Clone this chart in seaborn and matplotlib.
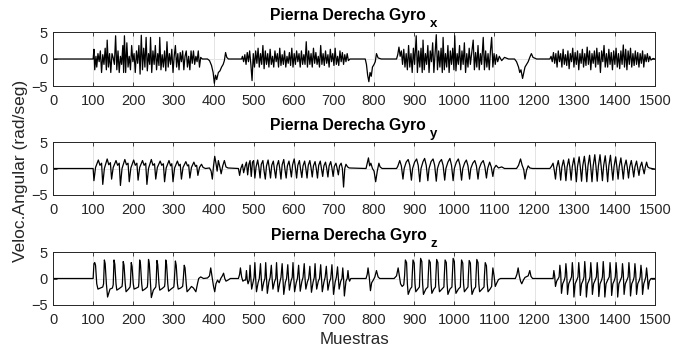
import matplotlib
matplotlib.use("Agg")
import matplotlib.pyplot as plt
import matplotlib.transforms as mtransforms
import seaborn as sns
import pandas as pd

# ---------------- data (sample, rad/seg) ----------------
gyro_x_puntos = [
(0,0),(100,0),(102,1.8),(104,-2.0),(107,0.5),(109,-1.5),(112,1.0),(115,-0.5),(118,1.5),(121,-2.5),(124,0.8),(127,-1.0),(130,2.0),(133,-2.0),(135,3.5),(138,-1.5),(141,1.0),(144,-2.5),(147,1.0),(150,0.2),(153,-1.0),(156,4.3),(159,-2.0),(162,1.5),(165,-2.5),(168,0.5),(171,-1.0),(174,2.5),(176,-2.5),(178,4.3),(181,-2.5),(184,3.0),(187,-1.5),(190,0.5),(193,-2.0),(196,2.5),(199,-0.5),(202,1.0),(205,-2.5),(208,1.5),(211,-0.8),(214,2.5),(217,-2.8),(220,4.4),(223,-2.0),(226,2.0),(229,-1.5),(232,4.0),(235,-2.2),(238,1.0),(241,-1.0),(243,4.0),(246,-2.5),(249,1.5),(252,-1.0),(255,2.5),(258,-2.0),(261,1.0),(264,-1.2),(266,4.0),(269,-2.0),(272,0.8),(275,-1.5),(278,1.5),(281,-2.2),(284,3.2),(287,-1.5),(290,1.0),(293,-1.0),(296,1.8),(299,-2.5),(302,0.5),(305,2.5),(308,-1.5),(311,1.0),(314,-2.0),(317,1.2),(320,-0.5),(323,1.5),(326,-2.0),(329,0.5),(332,1.5),(335,-1.5),(338,0.5),(341,-2.0),(344,1.5),(347,-0.8),(350,1.5),(353,-1.0),(356,0.5),(359,-0.5),(362,1.5),(365,-1.5),(368,0.3),(372,0.0),(385,0.0),(390,-0.3),(395,-1.2),(399,-2.5),(402,-4.5),(405,-3.0),(408,-3.8),(412,-2.5),(416,-2.2),(420,-1.5),(424,-1.0),(427,-0.3),(430,1.2),(433,0.3),(437,0.0),(470,0.0),
(472,0.5),(475,-0.5),(478,0.8),(481,-1.0),(484,1.2),(487,-0.5),(490,1.5),(493,-1.0),(496,-4.0),(499,1.0),(502,-1.5),(505,1.5),(508,-0.8),(511,2.0),(514,-1.5),(517,1.0),(520,-1.0),(523,2.5),(526,-1.8),(529,1.5),(532,-1.0),(535,1.0),(538,-1.5),(541,1.8),(544,-1.0),(547,0.5),(550,-1.5),(553,1.5),(556,-0.5),(559,1.0),(562,-1.5),(565,2.0),(568,-1.2),(571,0.8),(574,-1.0),(577,1.5),(580,-1.5),(583,0.5),(586,-0.8),(589,1.2),(592,-1.2),(595,2.0),(598,-1.5),(601,1.0),(604,-1.0),(607,1.5),(610,-0.5),(613,1.0),(616,-1.5),(619,1.5),(622,-1.0),(625,0.8),(628,-1.0),(631,3.2),(634,-1.5),(637,1.5),(640,-1.0),(643,1.0),(646,-1.5),(649,2.0),(652,-0.8),(655,1.2),(658,-1.0),(661,0.5),(664,-1.5),(667,2.5),(670,-1.0),(673,1.0),(676,-1.2),(679,1.5),(682,-0.8),(685,0.8),(688,-1.5),(691,1.8),(694,-0.5),(697,1.0),(700,-1.2),(703,2.0),(706,-1.0),(709,0.5),(712,-1.2),(715,1.5),(718,-0.5),(721,1.2),(724,-1.0),(727,0.8),(730,-0.5),(733,1.0),(736,-0.3),(740,0.0),(778,0.0),
(781,-1.0),(784,-3.0),(787,-4.2),(790,-2.5),(793,-3.2),(796,-1.5),(800,-1.0),(803,-0.5),(806,1.0),(810,0.2),(818,0.0),(856,0.0),(859,0.8),(862,2.2),(865,0.5),(868,1.5),(871,-1.0),(874,1.8),(877,-1.5),(880,1.0),(883,-2.0),(886,2.5),(889,-1.5),(892,1.0),(895,-2.5),(898,2.0),(901,-1.0),(905,4.3),(908,-2.5),(911,1.5),(914,-1.5),(917,2.0),(920,-2.5),(922,3.5),(925,-2.0),(928,1.0),(931,-1.0),(934,2.5),(937,-2.5),(940,1.5),(943,-0.5),(946,3.0),(949,-2.5),(952,1.0),(955,4.5),(958,-2.0),(961,1.5),(964,-1.5),(967,2.0),(970,-2.5),(972,4.0),(975,-2.0),(978,1.0),(981,-1.5),(984,2.5),(987,-2.5),(990,1.5),(993,-1.0),(996,2.0),(999,-2.0),(1001,4.3),(1004,-2.2),(1007,1.0),(1010,-1.0),(1013,2.5),(1016,-2.0),(1019,1.5),(1022,-1.0),(1025,3.0),(1028,-2.5),(1031,1.0),(1034,-1.5),(1037,2.0),(1040,-1.0),(1043,1.0),(1047,3.5),(1050,-2.0),(1053,1.2),(1056,-1.5),(1059,2.5),(1062,-2.0),(1065,1.0),(1068,-1.0),(1072,4.0),(1075,-2.0),(1078,1.5),(1081,-1.5),(1084,1.0),(1087,-2.0),(1090,1.5),(1093,4.0),(1096,-1.5),(1099,1.0),(1102,-1.0),(1105,0.8),(1108,-0.5),(1112,0.5),(1118,-0.3),(1125,0.3),(1135,0.0),(1150,0.0),(1155,-0.5),(1160,-1.5),(1163,-2.5),(1166,-2.0),(1170,-3.6),(1173,-2.5),(1176,-1.5),(1180,-1.0),(1184,-0.5),(1188,0.3),(1192,1.0),(1196,0.3),(1205,0.0),(1238,0.0),
(1241,0.5),(1244,-0.5),(1247,1.2),(1250,-0.8),(1253,1.0),(1256,-1.5),(1259,1.5),(1262,-0.5),(1265,1.0),(1268,-1.5),(1271,1.8),(1274,-1.0),(1277,0.8),(1280,-1.2),(1283,1.5),(1286,-1.8),(1289,1.0),(1292,-0.5),(1295,2.0),(1298,-1.5),(1301,1.2),(1304,-1.0),(1307,1.5),(1310,-2.0),(1313,1.0),(1316,-0.8),(1319,1.8),(1322,-1.5),(1325,1.0),(1328,-1.2),(1331,2.2),(1334,-1.0),(1337,1.5),(1340,-2.0),(1343,1.0),(1346,-0.8),(1349,1.5),(1352,-1.5),(1355,2.0),(1358,-1.0),(1361,1.2),(1364,-2.5),(1367,1.5),(1370,-0.5),(1373,2.5),(1376,-1.5),(1379,1.0),(1382,-1.5),(1385,1.8),(1388,-1.0),(1391,1.2),(1394,-2.0),(1397,1.5),(1400,-1.0),(1403,2.0),(1406,-1.5),(1409,1.0),(1412,-1.8),(1415,1.5),(1418,-1.0),(1421,2.6),(1424,-1.5),(1427,1.8),(1430,-2.0),(1433,1.5),(1436,-1.0),(1439,2.0),(1442,-1.5),(1445,1.0),(1448,-1.2),(1451,1.5),(1454,-1.0),(1457,1.2),(1460,-1.5),(1463,1.0),(1466,-0.8),(1469,1.5),(1472,-1.5),(1475,0.8),(1478,-0.5),(1481,1.0),(1484,-0.5),(1487,0.5),(1490,-0.2),(1495,0.1),(1500,0.0)]

gyro_y_puntos = [
(0,0),(100,0),(102,-2.3),(106,0.2),(113,1.6),(117,0.6),(121,1.0),(124,-3.0),(128,0.0),(135,1.8),(139,0.7),(143,1.1),(146,-2.0),(150,0.2),(157,1.5),(161,0.6),(165,1.0),(168,-3.2),(172,0.0),(179,1.7),(183,0.7),(187,1.0),(190,-2.5),(194,0.1),(201,1.6),(205,0.6),(209,1.0),(212,-2.2),(216,0.2),(223,1.5),(227,0.6),(231,1.0),(234,-3.0),(238,0.0),(245,1.7),(249,0.6),(253,0.9),(256,-2.0),(260,0.2),(267,1.4),(271,0.6),(275,0.9),(278,-2.5),(282,0.1),(289,1.5),(293,0.5),(296,0.9),(299,-2.5),(303,0.1),(310,1.4),(314,0.5),(317,0.8),(320,-2.0),(324,0.2),(331,1.3),(335,0.5),(338,0.7),(341,-1.8),(345,0.2),(351,1.2),(355,0.4),(358,0.6),(361,-1.3),(365,0.2),(370,0.8),(374,0.2),(380,0.0),(390,0.1),(394,-0.5),(397,-2.0),(400,0.5),(403,2.3),(406,1.0),(409,-0.5),(412,1.5),(416,0.2),(419,-1.0),(423,0.5),(427,1.5),(431,0.3),(436,0.1),(462,0.0),(465,-1.3),(468,0.0),(472,0.8),(475,-0.8),(479,0.5),(482,1.2),(485,-1.2),(488,0.8),(491,1.5),(494,-1.5),(497,1.2),(500,1.5),(503,-1.8),(506,0.3),(510,1.6),(513,0.2),(516,-1.8),(519,0.8),(523,1.5),(526,-0.5),(529,-2.0),(532,0.5),(536,1.6),(539,0.0),(542,-1.8),(545,0.6),(549,1.4),(552,-0.3),(555,-1.8),(558,0.5),(562,1.5),(565,0.0),(568,-2.0),(571,0.7),(575,1.7),(578,-0.2),(581,-1.8),(584,0.5),(588,1.4),(591,0.0),(594,-1.6),(597,0.7),(601,1.8),(604,0.2),(607,-1.8),(610,0.6),(614,1.5),(617,-0.2),(620,-1.7),(623,0.5),(627,1.4),(630,0.0),(633,-1.8),(636,0.6),(640,1.5),(643,0.1),(646,-1.6),(649,0.5),(653,1.3),(656,0.0),(659,-1.8),(662,0.6),(666,1.4),(669,0.0),(672,-1.5),(675,0.5),(679,1.2),(682,0.0),(685,-1.6),(688,0.5),(692,1.3),(695,0.1),(698,-1.5),(701,0.4),(705,1.0),(708,0.0),(711,-1.2),(714,0.5),(718,1.0),(721,0.0),(724,-3.5),(727,0.0),(730,0.8),(734,0.3),(738,0.1),(780,0.0),(783,1.0),(786,2.0),(789,0.5),(792,1.0),(796,0.0),(800,-0.5),(804,-2.5),(808,-0.5),(812,1.0),(815,0.3),(820,0.0),(856,0.0),(859,0.4),(864,1.5),(868,0.5),(872,-2.0),(875,0.0),(880,1.2),(885,1.7),(889,0.6),(893,-2.2),(896,0.0),(901,1.2),(906,1.8),(910,0.6),(914,-2.5),(917,0.0),(922,1.3),(926,1.9),(930,0.6),(934,-2.3),(937,0.0),(942,1.3),(947,1.8),(951,0.6),(955,-2.4),(958,0.0),(963,1.2),(968,1.7),(972,0.6),(976,-2.2),(979,0.0),(984,1.2),(989,1.9),(993,0.6),(997,-2.3),(1000,0.0),(1005,1.2),(1010,1.8),(1014,0.6),(1018,-2.2),(1021,0.0),(1026,1.1),(1030,1.6),(1034,0.5),(1038,-2.0),(1041,0.0),(1046,1.0),(1051,1.5),(1055,0.5),(1059,-2.0),(1062,0.0),(1067,1.0),(1072,1.5),(1076,0.4),(1080,-1.8),(1083,0.0),(1088,1.2),(1092,0.3),(1096,-1.5),(1099,0.0),(1104,0.6),(1110,0.1),(1118,0.3),(1125,0.0),(1155,0.0),(1160,0.6),(1165,1.8),(1169,0.6),(1173,-0.2),(1176,-2.0),(1180,-0.3),(1184,0.5),(1188,0.1),(1195,0.0),(1238,0.0),(1242,0.4),(1246,1.0),(1249,-0.3),(1252,-2.0),(1255,0.2),(1259,1.5),(1262,0.2),(1265,-2.2),(1268,0.3),(1272,1.6),(1275,0.3),(1278,-2.3),(1281,0.3),(1285,1.8),(1288,0.2),(1291,-2.2),(1294,0.4),(1298,2.0),(1301,0.3),(1304,-2.5),(1307,0.4),(1311,2.2),(1314,0.2),(1317,-2.4),(1320,0.5),(1324,2.3),(1327,0.3),(1330,-2.5),(1333,0.5),(1337,2.5),(1340,0.2),(1343,-2.5),(1346,0.5),(1350,2.6),(1353,0.3),(1356,-2.4),(1359,0.5),(1363,2.6),(1366,0.3),(1369,-2.3),(1372,0.5),(1376,2.4),(1379,0.2),(1382,-2.5),(1385,0.5),(1389,2.5),(1392,0.2),(1395,-2.2),(1398,0.4),(1402,2.2),(1405,0.3),(1408,-2.0),(1411,0.4),(1415,2.0),(1418,0.2),(1421,-2.0),(1424,0.4),(1428,1.6),(1431,0.2),(1434,-1.8),(1437,0.3),(1441,1.5),(1444,0.1),(1447,-1.6),(1450,0.3),(1454,1.4),(1457,0.1),(1460,-1.3),(1463,0.3),(1467,1.2),(1470,0.0),(1473,-1.0),(1476,0.3),(1479,1.2),(1482,0.3),(1486,0.1),(1492,0.0),(1500,-0.1)]

gyro_z_puntos = [
(0,0),(100,0),(102,2.8),(104,3.0),(106,2.5),(109,-1.0),(112,-2.0),(118,-1.8),(124,-1.6),(126,-1.0),(128,3.5),(130,2.8),(133,-1.0),(136,-3.5),(142,-2.0),(148,-1.8),(150,-1.2),(152,3.5),(154,2.7),(157,-1.0),(159,-2.2),(165,-1.9),(172,-1.5),(173,-0.8),(175,3.2),(177,2.5),(180,-1.0),(182,-2.5),(188,-2.0),(192,-1.6),(193,-0.8),(195,3.0),(197,2.3),(200,-1.0),(202,-2.0),(208,-1.8),(213,-1.6),(214,-0.8),(216,3.5),(218,2.7),(221,-1.0),(223,-2.3),(229,-2.0),(235,-1.6),(236,-0.8),(238,3.6),(240,2.8),(243,-1.0),(245,-3.6),(250,-2.2),(256,-1.6),(257,-0.8),(259,3.4),(261,2.6),(264,-1.0),(266,-2.2),(272,-1.9),(278,-1.5),(279,-0.8),(281,3.5),(283,2.7),(286,-1.0),(288,-2.4),(294,-2.0),(301,-1.6),(302,-0.8),(305,3.3),(307,2.5),(310,-1.0),(312,-2.0),(318,-1.8),(323,-1.5),(324,-0.8),(327,2.5),(329,2.0),(332,-1.0),(334,-2.5),(340,-2.0),(345,-1.5),(350,-1.8),(356,-2.5),(360,-1.0),(363,0.0),(368,0.3),(375,0.0),(385,0.1),(390,0.5),(393,2.0),(396,0.5),(400,-1.5),(403,-2.5),(406,-1.0),(410,-0.3),(414,-0.8),(418,0.0),(422,0.5),(425,1.0),(428,0.0),(431,-0.5),(436,-0.3),(442,0.0),(462,0.0),(465,0.8),(467,2.0),(470,0.3),(473,-0.5),(477,-0.3),
(480,-0.3),(482,1.5),(484,-0.2),(486,-1.0),(489,-0.3),(491,2.5),(493,0.0),(495,-2.0),(499,-0.5),(501,0.2),(503,3.0),(505,0.0),(507,-2.5),(511,-0.8),(514,0.0),(517,2.8),(519,0.0),(521,-2.3),(525,-0.7),(528,0.0),(530,3.0),(532,0.0),(534,-2.8),(538,-0.6),(541,0.2),(544,2.5),(546,0.0),(548,-2.0),(552,-0.6),(555,0.0),(557,3.0),(559,0.0),(561,-2.5),(565,-0.8),(568,0.2),(571,2.8),(573,0.0),(575,-3.0),(579,-0.7),(582,0.0),(585,2.6),(587,0.0),(589,-2.2),(593,-0.5),(596,0.2),(598,3.0),(600,0.0),(602,-2.5),(606,-0.8),(609,0.0),(612,2.5),(614,0.0),(616,-2.4),(620,-0.6),(623,0.2),(626,2.8),(628,0.0),(630,-2.0),(634,-0.6),(637,0.0),(640,2.3),(642,0.0),(644,-2.6),(648,-0.7),(651,0.2),(653,2.8),(655,0.0),(657,-2.0),(661,-0.5),(664,0.0),(667,2.6),(669,0.0),(671,-2.5),(675,-0.7),(678,0.2),(681,2.3),(683,0.0),(685,-2.2),(689,-0.6),(692,0.0),(695,2.6),(697,0.0),(699,-3.0),(703,-0.7),(706,0.2),(709,2.2),(711,0.0),(713,-2.0),(717,-0.5),(720,0.0),(722,2.0),(724,0.0),(726,-3.3),(730,-0.5),(733,0.0),(735,1.5),(737,0.0),(739,-0.5),(742,0.0),(780,0.0),(783,0.8),(785,2.0),(788,0.3),(791,-2.3),(794,-0.8),(798,-0.3),(802,0.3),(806,1.5),(810,0.3),(814,0.0),(850,0.0),
(856,0.5),(860,2.0),(863,0.5),(866,-1.0),(870,-1.5),(874,-1.2),(876,0.5),(878,3.5),(881,3.0),(883,-1.0),(885,-3.0),(890,-2.0),(894,-1.6),(895,0.5),(897,3.5),(900,2.9),(902,-1.0),(904,-2.5),(909,-2.0),(913,-1.6),(914,0.5),(916,3.8),(919,3.2),(921,-1.0),(923,-3.0),(929,-2.0),(934,-1.6),(935,0.5),(937,3.5),(940,3.0),(942,-1.0),(944,-2.8),(949,-2.0),(953,-1.6),(954,0.5),(956,3.6),(959,3.0),(961,-1.0),(963,-2.5),(969,-2.0),(974,-1.6),(975,0.5),(977,3.5),(980,3.0),(982,-1.0),(984,-3.0),(989,-2.0),(994,-1.6),(995,0.5),(997,3.8),(1000,3.2),(1002,-1.0),(1004,-2.8),(1010,-2.0),(1015,-1.6),(1016,0.5),(1018,3.5),(1021,2.9),(1023,-1.0),(1025,-2.5),(1030,-2.0),(1034,-1.6),(1035,0.5),(1037,3.4),(1040,2.9),(1042,-1.0),(1044,-3.0),(1049,-2.0),(1053,-1.6),(1054,0.5),(1056,3.6),(1059,3.0),(1061,-1.0),(1063,-2.5),(1069,-2.0),(1074,-1.6),(1075,0.5),(1077,3.0),(1080,2.4),(1082,-1.0),(1084,-2.5),(1089,-2.0),(1093,-1.5),(1094,0.0),(1096,2.0),(1099,0.5),(1102,-1.5),(1106,-0.8),(1110,-0.2),(1115,0.0),(1152,0.0),(1156,0.8),(1159,2.0),(1162,0.5),(1165,-0.5),(1168,-1.0),(1172,-0.3),(1176,0.2),(1184,0.5),(1188,1.5),(1191,0.4),(1195,0.0),(1238,0.0),
(1246,0.0),(1248,1.5),(1250,0.5),(1252,-1.5),(1255,-0.5),(1259,0.0),(1261,0.3),(1263,2.5),(1265,1.0),(1267,-2.8),(1270,-1.0),(1274,-0.3),(1276,0.3),(1278,2.8),(1280,1.0),(1282,-3.0),(1285,-1.0),(1289,-0.3),(1292,0.3),(1294,3.0),(1296,1.0),(1298,-3.5),(1301,-1.0),(1305,-0.3),(1308,0.3),(1310,3.0),(1312,1.0),(1314,-3.2),(1317,-1.0),(1321,-0.3),(1323,0.3),(1325,3.2),(1327,1.0),(1329,-3.5),(1332,-1.0),(1336,-0.3),(1338,0.3),(1340,3.0),(1342,1.0),(1344,-3.0),(1347,-1.0),(1351,-0.3),(1354,0.3),(1356,3.0),(1358,1.0),(1360,-3.4),(1363,-1.0),(1367,-0.3),(1369,0.3),(1371,3.2),(1373,1.0),(1375,-3.5),(1378,-1.0),(1382,-0.3),(1386,0.3),(1388,3.0),(1390,1.0),(1392,-3.2),(1395,-1.0),(1399,-0.3),(1401,0.3),(1403,3.0),(1405,1.0),(1407,-3.5),(1410,-1.0),(1414,-0.3),(1417,0.3),(1419,2.8),(1421,1.0),(1423,-3.0),(1426,-1.0),(1430,-0.3),(1433,0.3),(1435,3.0),(1437,1.0),(1439,-3.3),(1442,-1.0),(1446,-0.3),(1448,0.3),(1450,2.8),(1452,1.0),(1454,-3.0),(1457,-1.0),(1461,-0.3),(1463,0.3),(1465,2.5),(1467,1.0),(1469,-3.0),(1472,-1.0),(1475,-0.3),(1477,0.3),(1479,2.0),(1481,0.5),(1483,-2.0),(1486,-0.5),(1490,0.0),(1500,0.0)]

titulo_base = "Pierna Derecha Gyro"
subindices = ["x", "y", "z"]
x_ticks = list(range(0, 1501, 100))
y_ticks = [-5, 0, 5]
ylabel_txt = "Veloc.Angular (rad/seg)"
xlabel_txt = "Muestras"

# ---------------- style ----------------
sns.set_style("ticks")
plt.rcParams["font.family"] = ["Liberation Sans", "DejaVu Sans"]

W, H = 684, 350
fig = plt.figure(figsize=(W / 100, H / 100), dpi=100)
renderer = fig.canvas.get_renderer()

# axes boxes in pixels: (left, top, right, bottom)
boxes = [(53, 32, 655, 86), (53, 142, 655, 195), (53, 252, 655, 305)]
series = [gyro_x_puntos, gyro_y_puntos, gyro_z_puntos]
txt_color = "#262626"

for (l, t, r, b), pts, sub in zip(boxes, series, subindices):
    ax = fig.add_axes([l / W, 1 - b / H, (r - l) / W, (b - t) / H])
    df = pd.DataFrame(pts, columns=["Muestras", "Valor"])
    sns.lineplot(data=df, x="Muestras", y="Valor", ax=ax, color="black",
                 linewidth=0.9, estimator=None, sort=False)
    ax.set_xlim(0, 1500)
    ax.set_ylim(-5, 5)
    ax.set_xticks(x_ticks)
    ax.set_yticks(y_ticks)
    ax.grid(True, color="#e4e4e4", linewidth=0.7)
    ax.set_axisbelow(True)
    ax.tick_params(direction="in", top=True, right=True, length=3, width=0.6,
                   labelsize=10.5, colors=txt_color)
    ax.tick_params(axis="x", pad=6)
    ax.tick_params(axis="y", pad=4)
    for s in ax.spines.values():
        s.set_linewidth(0.7)
        s.set_color(txt_color)
    ax.set_xlabel("")
    ax.set_ylabel("")

    # title with a MATLAB-like lowered subscript
    gap, drop = 4, 7
    base_tr = mtransforms.offset_copy(ax.transAxes, fig=fig, x=0, y=12, units="dots")
    main = ax.text(0.5, 1.0, titulo_base, transform=base_tr, ha="center",
                   va="baseline", fontsize=11.3, fontweight="bold", color="black")
    sub_t = ax.text(0.5, 1.0, sub, transform=base_tr, ha="left", va="baseline",
                    fontsize=9.5, fontweight="bold", color="black")
    mb = main.get_window_extent(renderer)
    sb = sub_t.get_window_extent(renderer)
    total = mb.width + gap + sb.width
    shift = -(total - mb.width) / 2
    main.set_transform(mtransforms.offset_copy(ax.transAxes, fig=fig, x=shift, y=12, units="dots"))
    sub_t.set_transform(mtransforms.offset_copy(ax.transAxes, fig=fig,
                                                x=shift + mb.width / 2 + gap, y=12 - drop, units="dots"))

fig.text(21 / W, 1 - 171 / H, ylabel_txt, rotation=90, ha="center", va="center",
         fontsize=12.5, color=txt_color)
fig.text(354 / W, 1 - 339 / H, xlabel_txt, ha="center", va="center",
         fontsize=12.2, color=txt_color)

fig.savefig("out.png", dpi=100)
